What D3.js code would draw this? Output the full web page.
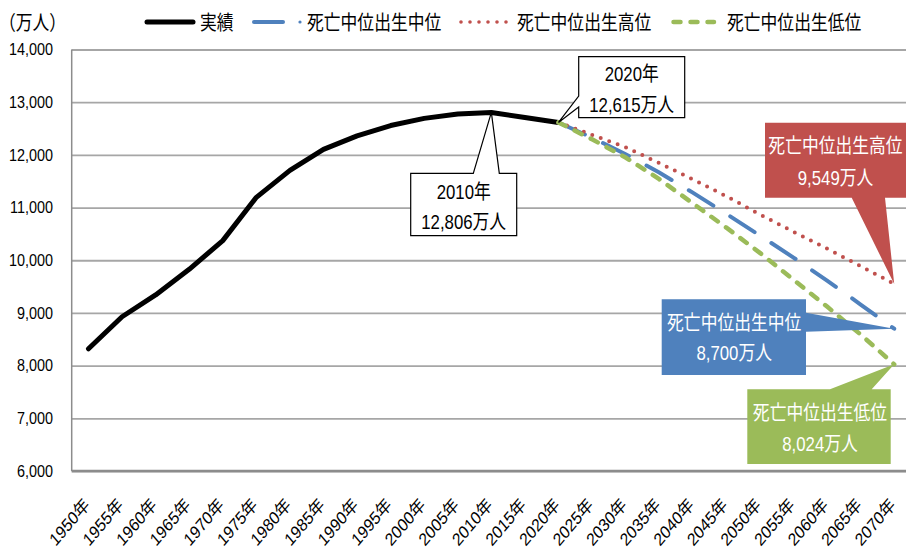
<!DOCTYPE html>
<html>
<head>
<meta charset="utf-8">
<script src="https://cdn.jsdelivr.net/npm/d3@7"></script>
<style>
  body { margin: 0; background: #fff; }
  svg { display: block; }
</style>
</head>
<body>
<svg id="chart" width="906" height="553"></svg>
<script>
// ---- data (万人) ----
const years = ["1950","1955","1960","1965","1970","1975","1980","1985","1990","1995",
               "2000","2005","2010","2015","2020","2025","2030","2035","2040","2045",
               "2050","2055","2060","2065","2070"];
const actualYears  = ["1950","1955","1960","1965","1970","1975","1980","1985","1990","1995",
                      "2000","2005","2010","2015","2020"];
const actualValues = [8320, 8928, 9342, 9828, 10372, 11194, 11706, 12105, 12361, 12557,
                      12693, 12777, 12806, 12709, 12615];
const projYears    = ["2020","2025","2030","2035","2040","2045","2050","2055","2060","2065","2070"];
const mediumValues = [12615, 12326, 12012, 11664, 11284, 10880, 10469, 10051, 9615, 9159, 8700];
const highValues   = [12615, 12380, 12145, 11845, 11535, 11215, 10870, 10540, 10220, 9890, 9549];
const lowValues    = [12615, 12295, 11950, 11540, 11080, 10620, 10140, 9630, 9120, 8590, 8024];
const yTicks       = [6000, 7000, 8000, 9000, 10000, 11000, 12000, 13000, 14000];
const seriesNames  = ["実績", "死亡中位出生中位", "死亡中位出生高位", "死亡中位出生低位"];
const unitLabel    = "（万人）";

// ---- layout ----
const W = 906, H = 553;
const plotL = 71.7, plotR = 911, plotT = 49.5, plotB = 471;
const FONT = "'Liberation Sans', 'Noto Sans CJK JP', sans-serif";
const SX = 0.84;   // horizontal squeeze for text glyphs

const colors = { actual: "#000000", medium: "#4F81BD", high: "#C0504D", low: "#9BBB59" };

const svg = d3.select("#chart");

const x = d3.scaleBand().domain(years).range([plotL, plotR]).padding(0);
const cx = yr => x(yr) + x.bandwidth() / 2;
const y = d3.scaleLinear().domain([6000, 14000]).range([plotB, plotT]);

// horizontal gridlines
svg.append("g")
  .attr("transform", `translate(${plotL},0)`)
  .call(d3.axisLeft(y).tickValues(yTicks).tickSize(-(plotR - plotL)).tickFormat(""))
  .call(g => g.select(".domain").remove())
  .call(g => g.selectAll(".tick line").attr("stroke", "#A6A6A6").attr("stroke-width", 1.8));

// left axis line
svg.append("line")
  .attr("x1", plotL).attr("x2", plotL).attr("y1", plotT).attr("y2", plotB)
  .attr("stroke", "#8C8C8C").attr("stroke-width", 1.5);

// y tick labels
svg.append("g").selectAll("text")
  .data(yTicks)
  .join("text")
  .attr("transform", d => `translate(53,${y(d) + 5.8}) scale(0.9,1)`)
  .attr("text-anchor", "end")
  .attr("font-family", FONT)
  .attr("font-size", 16)
  .attr("fill", "#000")
  .text(d3.format(","));

// bottom category axis
const xAxis = svg.append("g")
  .attr("transform", `translate(0,${plotB})`)
  .call(d3.axisBottom(x).tickSize(0).tickFormat(d => d + "年"));
xAxis.select(".domain").remove();
xAxis.selectAll(".tick text")
  .attr("x", 0).attr("y", 0).attr("dy", 0)
  .attr("text-anchor", "end")
  .attr("font-family", FONT)
  .attr("font-size", 18)
  .attr("fill", "#000")
  .attr("transform", "translate(2,35) scale(0.85,1) rotate(-45)");

svg.append("line")
  .attr("x1", plotL).attr("x2", plotR).attr("y1", plotB).attr("y2", plotB)
  .attr("stroke", "#8C8C8C").attr("stroke-width", 2.5);

// ---- series ----
const line = d3.line().x(d => cx(d.year)).y(d => y(d.value));
const zip = (ys, vs) => ys.map((yr, i) => ({ year: yr, value: vs[i] }));

svg.append("path")
  .datum(zip(actualYears, actualValues))
  .attr("d", line)
  .attr("fill", "none").attr("stroke", colors.actual)
  .attr("stroke-width", 5).attr("stroke-linejoin", "round").attr("stroke-linecap", "round");

svg.append("path")
  .datum(zip(projYears, mediumValues))
  .attr("d", line)
  .attr("fill", "none").attr("stroke", colors.medium)
  .attr("stroke-width", 4).attr("stroke-linecap", "round")
  .attr("stroke-dasharray", "29,20");

svg.append("path")
  .datum(zip(projYears, highValues))
  .attr("d", line)
  .attr("fill", "none").attr("stroke", colors.high)
  .attr("stroke-width", 4).attr("stroke-linecap", "round")
  .attr("stroke-dasharray", "0,9");

svg.append("path")
  .datum(zip(projYears, lowValues))
  .attr("d", line)
  .attr("fill", "none").attr("stroke", colors.low)
  .attr("stroke-width", 4.5).attr("stroke-linecap", "round")
  .attr("stroke-dasharray", "8,10");

// ---- legend ----
const leg = svg.append("g");
function legText(xPos, str) {
  leg.append("text")
    .attr("transform", `translate(${xPos},30) scale(${SX},1)`)
    .attr("font-family", FONT).attr("font-size", 20).attr("fill", "#000")
    .text(str);
}
leg.append("line").attr("x1", 147).attr("x2", 193).attr("y1", 22).attr("y2", 22)
  .attr("stroke", colors.actual).attr("stroke-width", 5).attr("stroke-linecap", "round");
legText(200, seriesNames[0]);
leg.append("line").attr("x1", 254).attr("x2", 283).attr("y1", 22).attr("y2", 22)
  .attr("stroke", colors.medium).attr("stroke-width", 4).attr("stroke-linecap", "round");
leg.append("circle").attr("cx", 300).attr("cy", 22).attr("r", 1.6).attr("fill", colors.medium);
legText(307, seriesNames[1]);
leg.append("line").attr("x1", 461).attr("x2", 507).attr("y1", 22).attr("y2", 22)
  .attr("stroke", colors.high).attr("stroke-width", 3.6).attr("stroke-linecap", "round")
  .attr("stroke-dasharray", "0,9");
legText(517, seriesNames[2]);
leg.append("line").attr("x1", 673.5).attr("x2", 714).attr("y1", 22).attr("y2", 22)
  .attr("stroke", colors.low).attr("stroke-width", 4.5).attr("stroke-linecap", "round")
  .attr("stroke-dasharray", "7,10");
legText(727, seriesNames[3]);

// unit label
svg.append("text")
  .attr("transform", `translate(-1,30) scale(${SX},1)`)
  .attr("font-family", FONT).attr("font-size", 20).attr("fill", "#000")
  .text(unitLabel);

// ---- callouts ----
function calloutPath(b, side, base, tip) {
  const [x0, y0, x1, y1] = b, [a, c] = base;
  let pts;
  if (side === "top")
    pts = [[x0,y0],[a,y0],tip,[c,y0],[x1,y0],[x1,y1],[x0,y1]];
  else if (side === "right")
    pts = [[x0,y0],[x1,y0],[x1,a],tip,[x1,c],[x1,y1],[x0,y1]];
  else if (side === "bottom")
    pts = [[x0,y0],[x1,y0],[x1,y1],[c,y1],tip,[a,y1],[x0,y1]];
  else
    pts = [[x0,y0],[x1,y0],[x1,y1],[x0,y1],[x0,c],tip,[x0,a]];
  return "M" + pts.map(p => p.join(",")).join("L") + "Z";
}

function callout(o) {
  const g = svg.append("g");
  g.append("path")
    .attr("d", calloutPath(o.box, o.side, o.base, o.tip))
    .attr("fill", o.fill)
    .attr("stroke", o.stroke)
    .attr("stroke-width", o.stroke === "none" ? 0 : 1.2)
    .attr("stroke-linejoin", "miter");
  o.lines.forEach((str, i) => {
    g.append("text")
      .attr("transform", `translate(${o.textX},${o.rowY[i] + 7.4}) scale(${SX},1)`)
      .attr("text-anchor", "middle")
      .attr("font-family", FONT).attr("font-size", 20)
      .attr("fill", o.textColor)
      .text(str);
  });
}

const fmt = d3.format(",");
const last = arr => arr[arr.length - 1];
const peakIdx = actualValues.indexOf(d3.max(actualValues));

callout({
  box: [410.7, 173.3, 516.7, 235.7], side: "top", base: [473.3, 499.3],
  tip: [cx(actualYears[peakIdx]), y(actualValues[peakIdx])],
  fill: "#fff", stroke: "#000", textColor: "#000",
  lines: [actualYears[peakIdx] + "年", fmt(actualValues[peakIdx]) + "万人"],
  textX: 463.7, rowY: [191.7, 221.7]
});

callout({
  box: [578.7, 56.7, 684.7, 117.7], side: "left", base: [96, 107],
  tip: [cx(last(actualYears)), y(last(actualValues))],
  fill: "#fff", stroke: "#000", textColor: "#000",
  lines: [last(actualYears) + "年", fmt(last(actualValues)) + "万人"],
  textX: 631.7, rowY: [73.3, 105]
});

callout({
  box: [765, 122.7, 910, 197.7], side: "bottom", base: [851.7, 885],
  tip: [cx(last(projYears)), y(last(highValues))],
  fill: colors.high, stroke: "none", textColor: "#fff",
  lines: [seriesNames[2], fmt(last(highValues)) + "万人"],
  textX: 835.5, rowY: [145.8, 177.5]
});

callout({
  box: [661.7, 299.3, 806, 375], side: "right", base: [312.7, 331.7],
  tip: [cx(last(projYears)), y(last(mediumValues))],
  fill: colors.medium, stroke: "none", textColor: "#fff",
  lines: [seriesNames[1], fmt(last(mediumValues)) + "万人"],
  textX: 734.2, rowY: [322.5, 352.5]
});

callout({
  box: [747.3, 389.3, 890.7, 464], side: "top", base: [830, 871.7],
  tip: [cx(last(projYears)), y(last(lowValues))],
  fill: colors.low, stroke: "none", textColor: "#fff",
  lines: [seriesNames[3], fmt(last(lowValues)) + "万人"],
  textX: 820, rowY: [412.5, 443.3]
});
</script>
</body>
</html>
